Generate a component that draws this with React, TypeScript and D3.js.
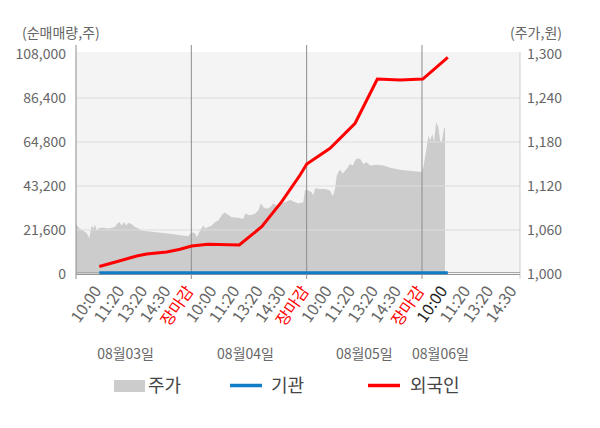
import React from 'react';
import * as d3 from 'd3';

// x positions are in "trading day" units: 0 = open of 08/03, 1 = close of 08/03, ...
const priceSeries: [number, number][] = [
  [0.0, 1068], [0.011, 1066], [0.029, 1062], [0.063, 1059], [0.093, 1056], [0.115, 1049],
  [0.136, 1066], [0.15, 1062], [0.165, 1067], [0.18, 1059], [0.202, 1063], [0.237, 1063],
  [0.28, 1062], [0.31, 1063], [0.338, 1064], [0.353, 1068], [0.376, 1071], [0.396, 1066],
  [0.416, 1071], [0.434, 1066], [0.454, 1070], [0.483, 1068], [0.512, 1064], [0.54, 1062],
  [0.57, 1059], [0.642, 1058], [0.7, 1057], [0.757, 1056], [0.815, 1055], [0.873, 1053.5],
  [0.931, 1052.5], [0.974, 1051.5], [0.989, 1055],
  [1.003, 1057], [1.023, 1056], [1.032, 1055.6], [1.047, 1050], [1.075, 1059], [1.104, 1066],
  [1.119, 1062], [1.147, 1064], [1.177, 1066], [1.206, 1071], [1.234, 1073], [1.264, 1080],
  [1.286, 1084], [1.307, 1082], [1.35, 1077.5], [1.408, 1076.6], [1.451, 1075], [1.466, 1082],
  [1.509, 1080], [1.552, 1082], [1.581, 1087], [1.604, 1096.5], [1.625, 1091], [1.654, 1089],
  [1.683, 1091], [1.711, 1096.5], [1.741, 1093], [1.769, 1096], [1.813, 1098], [1.856, 1101],
  [1.885, 1099], [1.928, 1096], [1.971, 1098],
  [1.986, 1115], [2.015, 1114], [2.044, 1111.5], [2.058, 1107], [2.073, 1117], [2.116, 1116],
  [2.16, 1116], [2.203, 1114], [2.226, 1106], [2.246, 1116], [2.261, 1134], [2.275, 1139],
  [2.29, 1142], [2.313, 1137], [2.348, 1143.5], [2.376, 1150], [2.4, 1148], [2.428, 1157],
  [2.463, 1157], [2.492, 1150], [2.521, 1152.5], [2.55, 1148], [2.608, 1149], [2.666, 1148],
  [2.723, 1145], [2.767, 1143.5], [2.81, 1142], [2.868, 1141], [2.926, 1140], [2.998, 1139],
  [3.012, 1146], [3.036, 1168], [3.056, 1189], [3.07, 1182], [3.09, 1191], [3.105, 1180],
  [3.122, 1207], [3.142, 1200], [3.157, 1182], [3.172, 1180], [3.192, 1200], [3.2, 1198],
];

const foreignSeries: [number, number][] = [
  [0.202, 3700], [0.382, 6530], [0.526, 8840], [0.613, 9820], [0.787, 10800], [0.902, 12130],
  [1.003, 13750], [1.145, 14580], [1.416, 14240], [1.61, 23220], [1.784, 35490], [1.943, 48600],
  [2.001, 54000], [2.203, 61700], [2.42, 74000], [2.613, 95700], [2.81, 95200], [3.007, 95700],
  [3.224, 106400],
];

const institutionSeries: [number, number][] = [
  [0.202, 600], [1.0, 600], [2.0, 600], [3.0, 600], [3.224, 600],
];

const dayTimes = ['10:00', '11:20', '13:20', '14:30', '장마감'];
const lastDayTimes = ['10:00', '11:20', '13:20', '14:30'];
const dateLabels: [number, string][] = [
  [0.43, '08월03일'], [1.47, '08월04일'], [2.5, '08월05일'], [3.16, '08월06일'],
];
const leftTicks = [0, 21600, 43200, 64800, 86400, 108000];
const rightTicks = [1000, 1060, 1120, 1180, 1240, 1300];

const FONT = '"Noto Sans CJK KR", "Noto Sans", sans-serif';

export default function App() {
  const width = 600;
  const height = 428;
  const left = 76;
  const right = 520;
  const top = 54;
  const bottom = 274;

  const x = d3.scaleLinear().domain([0, 3.85]).range([left, right]);
  const yL = d3.scaleLinear().domain([0, 108000]).range([bottom, top]);
  const yR = d3.scaleLinear().domain([1000, 1300]).range([bottom, top]);

  const area = d3
    .area<[number, number]>()
    .x(d => x(d[0]))
    .y0(bottom)
    .y1(d => yR(d[1]));

  const line = d3
    .line<[number, number]>()
    .x(d => x(d[0]))
    .y(d => yL(d[1]));

  const tickLabels: { t: number; label: string }[] = [];
  for (let day = 0; day < 3; day++) {
    dayTimes.forEach((s, i) => tickLabels.push({ t: day + (i + 1) * 0.2, label: s }));
  }
  lastDayTimes.forEach((s, i) => tickLabels.push({ t: 3 + (i + 1) * 0.2, label: s }));

  const fmt = d3.format(',');

  return (
    <svg width={width} height={height} style={{ display: 'block', margin: -8 }} fontFamily={FONT}>
      <rect x={0} y={0} width={width} height={height} fill="#fff" />

      {/* plot background */}
      <rect x={left} y={top - 2} width={right - left} height={bottom - top + 2} fill="#f4f4f4" />

      {/* price area */}
      <path d={area(priceSeries) ?? ''} fill="#cccccc" />

      {/* grid lines */}
      {leftTicks.slice(1, -1).map(v => (
        <line key={v} x1={left} x2={right} y1={yL(v)} y2={yL(v)} stroke="#dcdcdc" strokeWidth={1} />
      ))}

      {/* day dividers and axis frame */}
      {[0, 1, 2, 3].map(d => (
        <line key={d} x1={x(d)} x2={x(d)} y1={45} y2={279} stroke="#8c8c8c" strokeWidth={1} />
      ))}
      <line x1={right} x2={right} y1={top - 2} y2={279} stroke="#cfcfcf" strokeWidth={1} />
      <line x1={left} x2={right} y1={bottom - 1.5} y2={bottom - 1.5} stroke="#aaa" strokeWidth={1} />
      <line x1={left} x2={right} y1={bottom + 0.5} y2={bottom + 0.5} stroke="#999" strokeWidth={1} />

      {/* series */}
      <path d={line(institutionSeries) ?? ''} fill="none" stroke="#0f7cc4" strokeWidth={3} />
      <path d={line(foreignSeries) ?? ''} fill="none" stroke="#ff0000" strokeWidth={3} />

      {/* axis titles */}
      <text x={22} y={38} fontSize={14} fill="#666">(순매매량,주)</text>
      <text x={562} y={38} fontSize={14} fill="#666" textAnchor="end">(주가,원)</text>

      {/* left axis */}
      {leftTicks.map(v => (
        <text key={v} x={66} y={yL(v)} dy="0.35em" fontSize={14} fill="#666" textAnchor="end">
          {fmt(v)}
        </text>
      ))}

      {/* right axis */}
      {rightTicks.map(v => (
        <text key={v} x={527} y={yR(v)} dy="0.35em" fontSize={14} fill="#666">
          {fmt(v)}
        </text>
      ))}

      {/* x tick labels */}
      {tickLabels.map((d, i) => (
        <text
          key={i}
          transform={`translate(${x(d.t) + 3},291) rotate(-55)`}
          fontSize={16}
          textAnchor="end"
          fill={d.label === '장마감' ? '#ff0000' : d.t === 3.2 ? '#222' : '#666'}
        >
          {d.label}
        </text>
      ))}

      {/* date labels */}
      {dateLabels.map(([t, s]) => (
        <text key={s} x={x(t)} y={359} fontSize={14} fill="#666" textAnchor="middle">
          {s}
        </text>
      ))}

      {/* legend */}
      <rect x={114} y={380} width={31} height={12} fill="#cccccc" />
      <text x={148} y={386} dy="0.35em" fontSize={18} fill="#444">주가</text>
      <line x1={230} x2={262} y1={385.5} y2={385.5} stroke="#0f7cc4" strokeWidth={3.5} />
      <text x={271} y={386} dy="0.35em" fontSize={18} fill="#444">기관</text>
      <line x1={368} x2={400} y1={385.5} y2={385.5} stroke="#ff0000" strokeWidth={3.5} />
      <text x={410} y={386} dy="0.35em" fontSize={18} fill="#444">외국인</text>
    </svg>
  );
}
